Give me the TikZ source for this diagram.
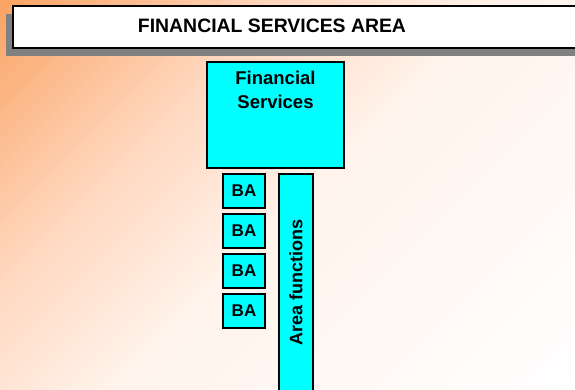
\documentclass[tikz,border=0pt]{standalone}
\usepackage{fontspec}
\setmainfont{Liberation Sans}
\usetikzlibrary{calc}
\definecolor{bgA}{RGB}{250,162,98}
\definecolor{bgB}{RGB}{255,215,190}
\definecolor{bgC}{RGB}{255,243,235}
\definecolor{bgD}{RGB}{255,255,255}
\definecolor{shadowgray}{RGB}{128,128,128}
\definecolor{boxcyan}{RGB}{0,255,255}
\tikzset{
  cyanbox/.style={draw=black, line width=1.5pt, fill=boxcyan, inner sep=0pt},
  babox/.style={cyanbox, minimum width=42pt, minimum height=34pt, font=\fontsize{17}{20}\selectfont\bfseries},
  labeltext/.style={inner sep=0pt, font=\bfseries}
}
\begin{document}
\begin{tikzpicture}[x=1pt,y=1pt]
\useasboundingbox (0,0) rectangle (575,-390);
\begin{scope}
\clip (0,0) rectangle (575,-390);
% diagonal gradient bands: s = x + depth
\foreach \a/\b/\ca/\cb in {0/280/bgA/bgB, 280/500/bgB/bgC, 500/970/bgC/bgD}{
  \foreach \k in {0,...,19}{
    \pgfmathsetmacro{\sone}{\a+(\b-\a)*\k/20}
    \pgfmathsetmacro{\stwo}{\a+(\b-\a)*(\k+1)/20+1}
    \pgfmathtruncatemacro{\pct}{100-100*(\k+0.5)/20}
    \fill[\ca!\pct!\cb] (\sone,0) -- (\stwo,0) -- (0,-\stwo) -- (0,-\sone) -- cycle;
  }
}
\end{scope}
% title bar
\fill[shadowgray] (6,-14) rectangle (580,-56);
\draw[line width=1.5pt, fill=white] (13,-6) rectangle (580,-48);
\node[labeltext, font=\fontsize{19.4}{22}\selectfont\bfseries] (title) at (272,-26) {FINANCIAL SERVICES AREA};
% Financial Services
\node[cyanbox, minimum width=137pt, minimum height=106pt] (fs) at (275.5,-115) {};
\node[labeltext, anchor=north, align=center, font=\fontsize{18.5}{24}\selectfont\bfseries] (fstext) at (275.5,-71) {Financial\\Services};
% BA boxes
\node[babox] (ba1) at (244,-191) {BA};
\node[babox] (ba2) at (244,-231) {BA};
\node[babox] (ba3) at (244,-271) {BA};
\node[babox] (ba4) at (244,-311) {BA};
% Area functions
\node[cyanbox, minimum width=34pt, minimum height=226pt] (af) at (296,-287) {};
\node[labeltext, rotate=90, font=\fontsize{18}{20}\selectfont\bfseries] (aftext) at (296,-282) {Area functions};
\end{tikzpicture}
\end{document}
